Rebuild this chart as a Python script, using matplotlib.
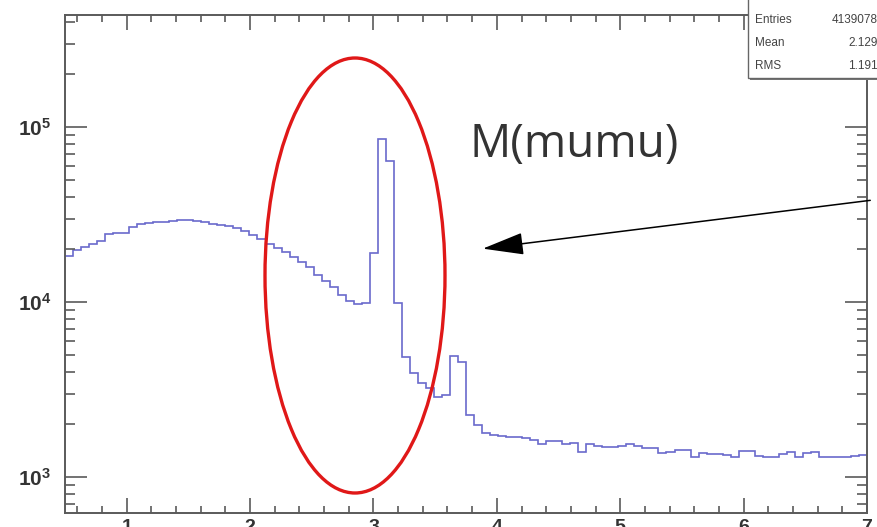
import numpy as np
import matplotlib
matplotlib.use("Agg")
import matplotlib.pyplot as plt
from matplotlib.patches import Ellipse, Rectangle, FancyArrowPatch
from matplotlib.ticker import MultipleLocator, LogLocator, FixedLocator, FixedFormatter

plt.rcParams['font.family'] = ['Liberation Sans', 'DejaVu Sans']

# Dimuon invariant mass histogram: 100 bins from 0.5 to 7 GeV
x_min, x_max, n_bins = 0.5, 7.0, 100
counts = [
    18320, 19830, 20620, 21450, 22320, 24470, 24800, 24800, 26830, 27900,
    28270, 28650, 28650, 29030, 29400, 29400, 29030, 28650, 27900, 27540,
    27180, 26480, 25450, 24150, 22910, 21450, 20350, 19310, 18080, 16930,
    15850, 14270, 13180, 12180, 10960, 10130, 9740, 9870, 19050, 85380,
    63940, 9870, 4850, 3930, 3444, 3226, 2866, 2943, 4914, 4542,
    2261, 1982, 1784, 1738, 1715, 1693, 1693, 1671, 1627, 1543,
    1606, 1606, 1543, 1564, 1389, 1543, 1503, 1483, 1483, 1503,
    1543, 1503, 1464, 1464, 1371, 1389, 1427, 1427, 1301, 1371,
    1353, 1353, 1336, 1301, 1408, 1408, 1318, 1301, 1301, 1353,
    1389, 1301, 1371, 1389, 1301, 1301, 1301, 1301, 1318, 1336,
]
x_ticks = [1, 2, 3, 4, 5, 6, 7]
y_ticks = [1e3, 1e4, 1e5]
y_tick_labels = ["$10^{3}$", "$10^{4}$", "$10^{5}$"]
stat_names = ["Entries", "Mean", "RMS"]
stat_values = ["4139078", "2.129", "1.191"]
annotation = "M(mumu)"

plt.rcParams['mathtext.fontset'] = 'custom'
plt.rcParams['mathtext.rm'] = 'Liberation Sans:bold'
plt.rcParams['mathtext.it'] = 'Liberation Sans:bold'
plt.rcParams['mathtext.bf'] = 'Liberation Sans:bold'

W, H = 878, 527
fig = plt.figure(figsize=(W / 100, H / 100), dpi=100)
ax = fig.add_axes([65 / W, 14 / H, 802 / W, 498 / H])

edges = np.linspace(x_min, x_max, n_bins + 1)
ax.stairs(counts, edges, baseline=None, color='#6a6acc', linewidth=1.2)

ax.set_xlim(x_min, x_max)
ax.set_yscale('log')
ax.set_ylim(10 ** (3 - 36 / 175), 10 ** (5 + 112 / 175))

axis_col = '#5a5a5a'
for sp in ax.spines.values():
    sp.set_color(axis_col)
    sp.set_linewidth(1.4)

ax.xaxis.set_major_locator(FixedLocator(x_ticks))
ax.xaxis.set_minor_locator(MultipleLocator(0.2))
ax.set_xticklabels([str(v) for v in x_ticks])
ax.yaxis.set_major_locator(FixedLocator(y_ticks))
ax.yaxis.set_major_formatter(FixedFormatter(y_tick_labels))
ax.yaxis.set_minor_locator(LogLocator(base=10, subs=np.arange(2, 10), numticks=20))

ax.tick_params(axis='both', which='both', direction='in', color=axis_col,
               top=True, right=True, width=1.2)
ax.tick_params(axis='x', which='major', length=11, pad=4, labelsize=14,
               labelcolor='#333333')
ax.tick_params(axis='x', which='minor', length=5)
ax.tick_params(axis='y', which='major', length=16, pad=10, labelsize=15,
               labelcolor='#333333')
ax.tick_params(axis='y', which='minor', length=7)
ax.yaxis.set_minor_formatter(plt.NullFormatter())
for lbl in ax.get_xticklabels():
    lbl.set_fontweight('bold')

# Statistics box in the top-right corner
bx0, by_bottom = 748, 78
shadow = Rectangle(((bx0 + 2) / W, (H - by_bottom - 2) / H), 0.3, 0.3,
                   transform=fig.transFigure, facecolor='#777777',
                   edgecolor='none', zorder=5)
box = Rectangle((bx0 / W, (H - by_bottom) / H), 0.3, 0.3,
                transform=fig.transFigure, facecolor='white',
                edgecolor='#666666', linewidth=1.0, zorder=6)
fig.add_artist(shadow)
fig.add_artist(box)
for i, (name, val) in enumerate(zip(stat_names, stat_values)):
    yy = (H - (20 + 23 * i)) / H
    fig.text(755 / W, yy, name, fontsize=8.5, color='#444444',
             va='center', ha='left', zorder=7)
    fig.text(878 / W, yy, val, fontsize=8.5, color='#444444',
             va='center', ha='right', zorder=7)

# Annotation label and arrow
fig.text(470 / W, (H - 157) / H, annotation, fontsize=33, color='#333333',
         family=['Open Sans', 'DejaVu Sans'], va='baseline', ha='left')
arrow = FancyArrowPatch(posA=(873 / W, (H - 200) / H), posB=(480 / W, (H - 249) / H),
                        transform=fig.transFigure,
                        arrowstyle='-|>,head_length=2.6,head_width=0.7',
                        mutation_scale=10, color='black', linewidth=1.1)
fig.add_artist(arrow)

# Red ellipse highlighting the J/psi region
ell = Ellipse(((355 - 65) / 802, (513 - 275.5) / 498), 180 / 802, 435 / 498,
              transform=ax.transAxes, fill=False, edgecolor='#e01818',
              linewidth=2.4, zorder=4, clip_on=False)
ax.add_patch(ell)

fig.savefig('out.png', dpi=100)
